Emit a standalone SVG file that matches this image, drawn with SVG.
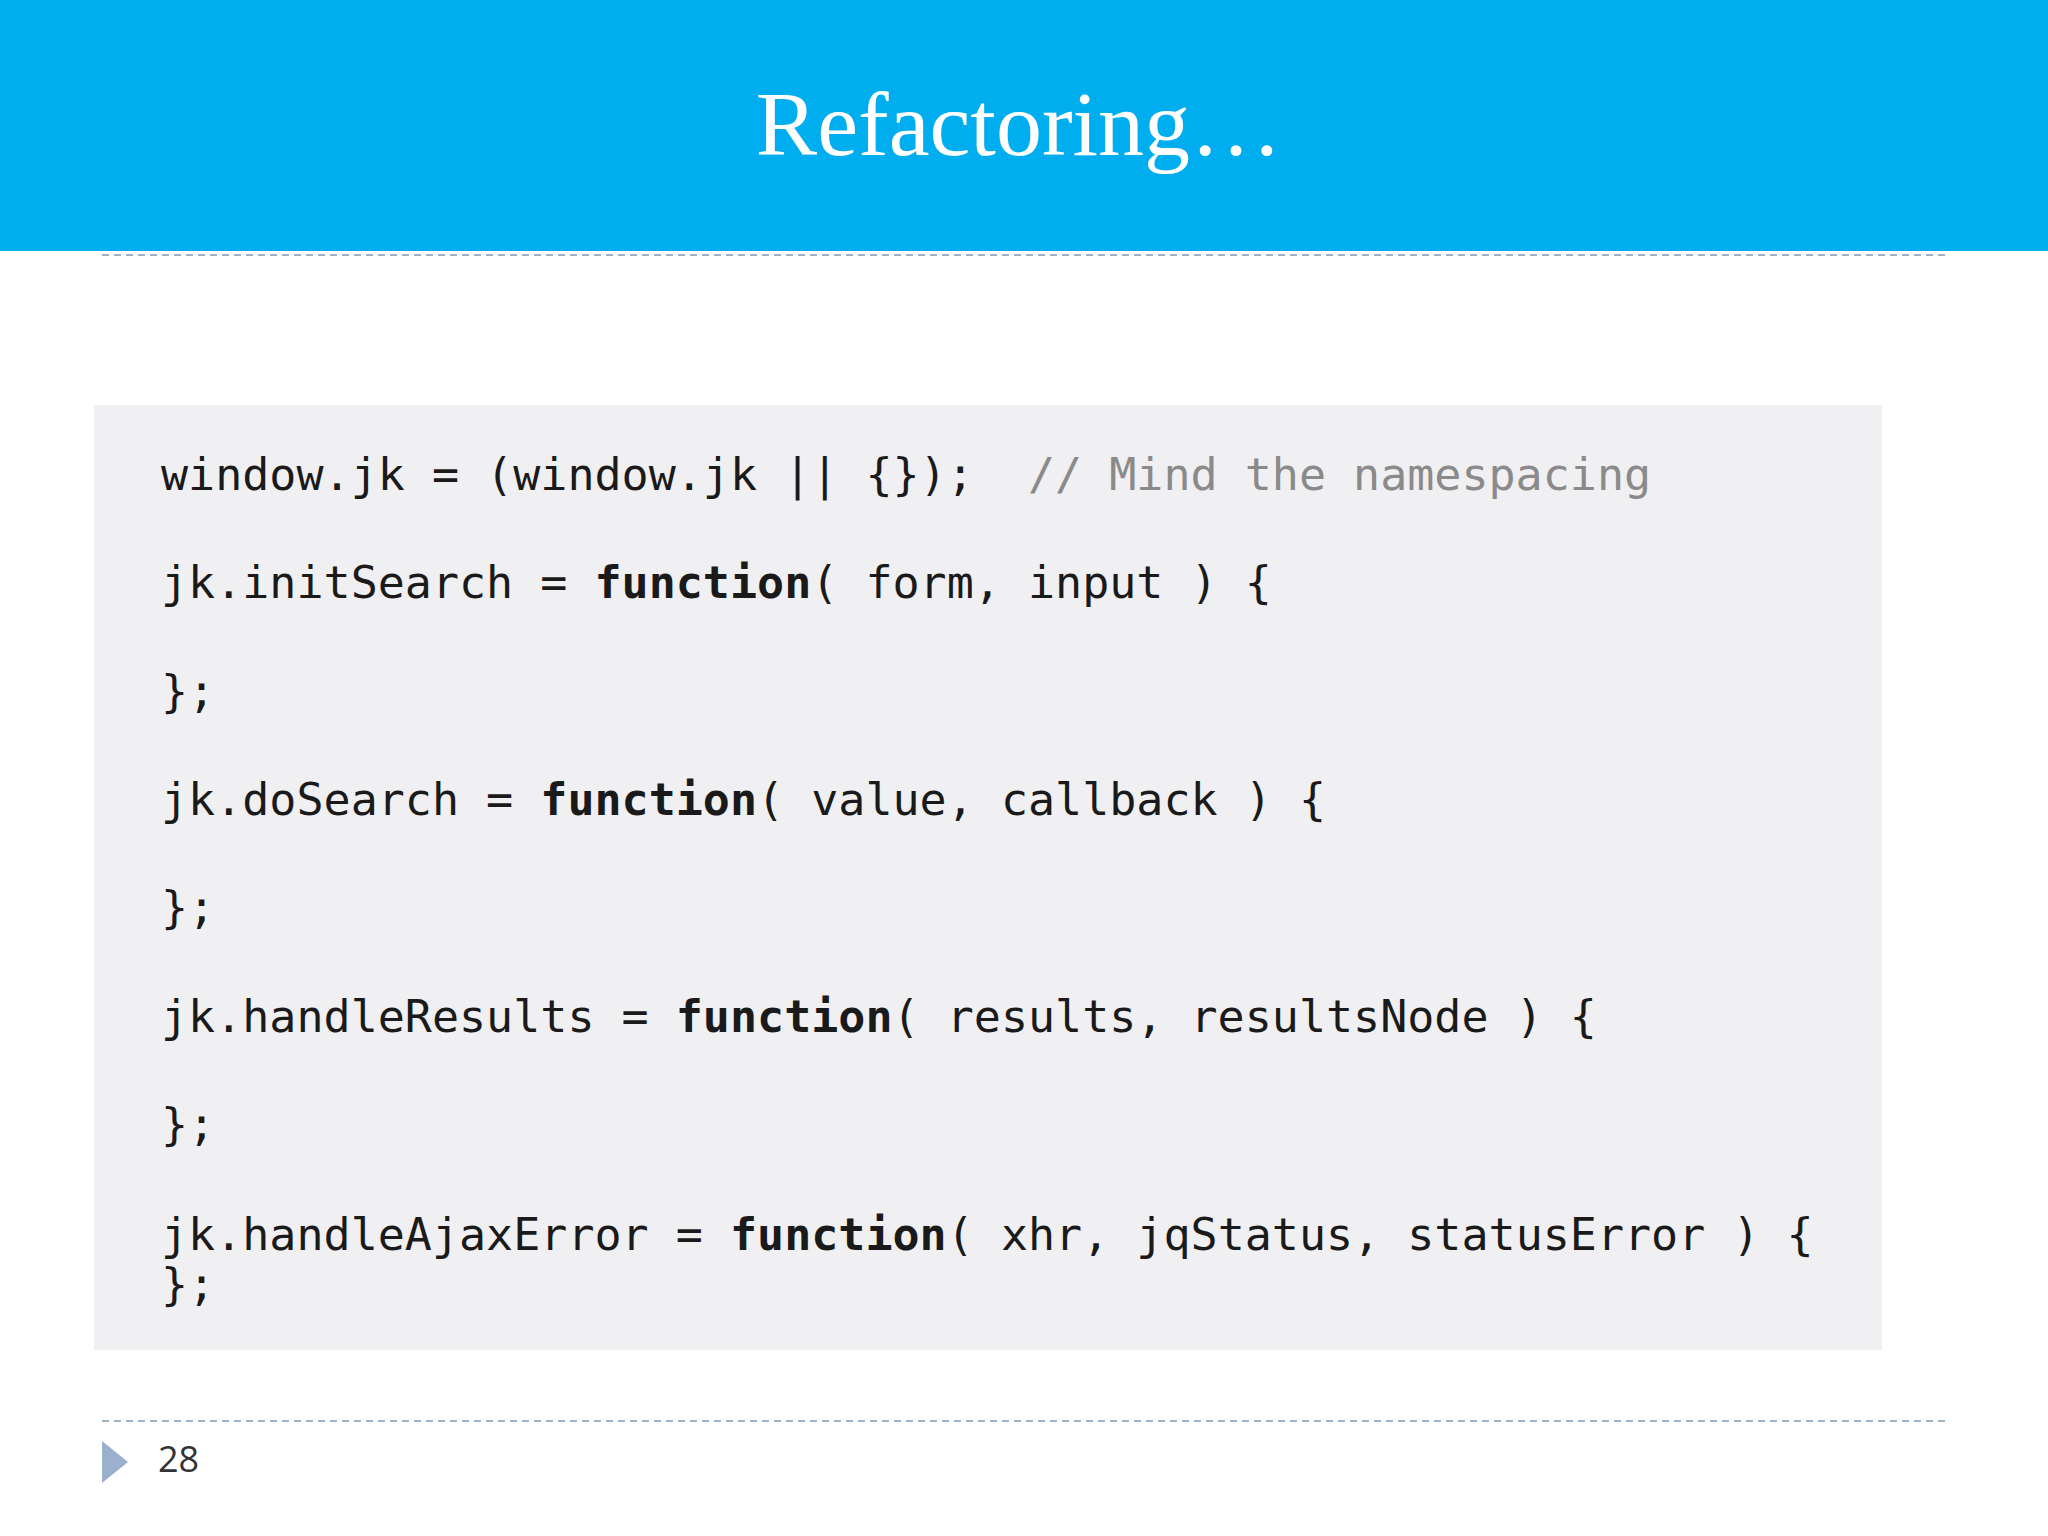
<svg xmlns="http://www.w3.org/2000/svg" width="2048" height="1536" viewBox="0 0 2048 1536">
<style>
.code{font-family:"DejaVu Sans Mono",monospace;font-size:45px;fill:#1a1a1a;white-space:pre}
.kw{font-weight:bold}
.cm{fill:#8a8a8a}
.dash{stroke:#9fb3c8;stroke-width:2;stroke-dasharray:7 5}
</style>
<rect width="2048" height="1536" fill="#ffffff"/>
<g id="header">
<rect x="0" y="0" width="2048" height="251" fill="#00AEEF"/>
<text x="1019" y="155" text-anchor="middle" font-family="Liberation Serif, serif" font-size="92" fill="#ffffff">Refactoring…</text>
</g>
<line class="dash" x1="102" y1="255" x2="1946" y2="255"/>
<line class="dash" x1="102" y1="1421" x2="1946" y2="1421"/>
<g id="code">
<rect x="94" y="405" width="1788" height="945" fill="#f0eff1"/>
<text class="code" xml:space="preserve" x="161" y="490">window.jk = (window.jk || {});  <tspan class="cm">// Mind the namespacing</tspan></text>
<text class="code" xml:space="preserve" x="161" y="598">jk.initSearch = <tspan class="kw">function</tspan>( form, input ) {</text>
<text class="code" xml:space="preserve" x="161" y="707">};</text>
<text class="code" xml:space="preserve" x="161" y="815">jk.doSearch = <tspan class="kw">function</tspan>( value, callback ) {</text>
<text class="code" xml:space="preserve" x="161" y="923">};</text>
<text class="code" xml:space="preserve" x="161" y="1032">jk.handleResults = <tspan class="kw">function</tspan>( results, resultsNode ) {</text>
<text class="code" xml:space="preserve" x="161" y="1140">};</text>
<text class="code" xml:space="preserve" x="161" y="1250">jk.handleAjaxError = <tspan class="kw">function</tspan>( xhr, jqStatus, statusError ) {</text>
<text class="code" xml:space="preserve" x="161" y="1300">};</text>
</g>
<g id="footer">
<polygon points="102,1441 128,1462 102,1483" fill="#9bb0cc"/>
<text x="158" y="1472" font-family="Open Sans, sans-serif" font-size="36" fill="#333333">28</text>
</g>
</svg>
